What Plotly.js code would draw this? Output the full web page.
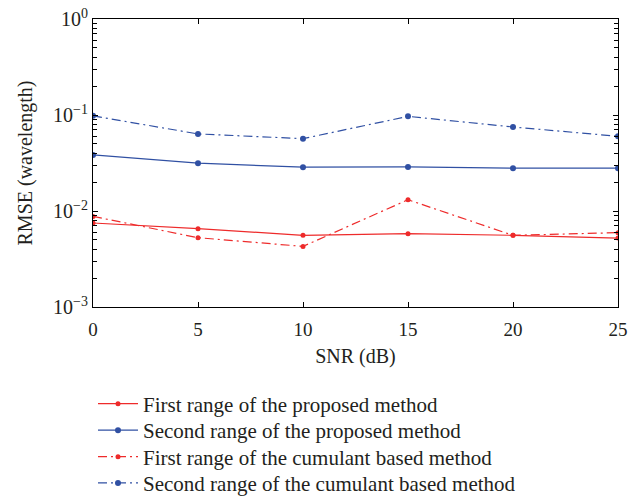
<!DOCTYPE html>
<html>
<head>
<meta charset="utf-8">
<script src="https://cdn.plot.ly/plotly-3.0.1.min.js"></script>
<style>html,body{margin:0;padding:0;background:#fff;}#chart{width:639px;height:498px;}</style>
</head>
<body>
<div id="chart"></div>
<script>
var snr = [0, 5, 10, 15, 20, 25];
var firstProposed = [0.0075, 0.00655, 0.00558, 0.0058, 0.00558, 0.00522];
var secondProposed = [0.0384, 0.0315, 0.0286, 0.0288, 0.0279, 0.0279];
var firstCumulant = [0.00879, 0.00527, 0.00428, 0.0131, 0.00558, 0.00595];
var secondCumulant = [0.098, 0.0635, 0.0567, 0.0968, 0.075, 0.060];
var seriesNames = [
  'First range of the proposed method',
  'Second range of the proposed method',
  'First range of the cumulant based method',
  'Second range of the cumulant based method'
];
var yTickVals = [0.001, 0.01, 0.1, 1];
var yTickText = ['10<sup>\u22123</sup>', '10<sup>\u22122</sup>', '10<sup>\u22121</sup>', '10<sup>0</sup>'];
var xTickVals = [0, 5, 10, 15, 20, 25];

// minor log ticks (2..9 within each decade)
var yMinorVals = [];
for (var d = 0; d < yTickVals.length - 1; d++) {
  for (var k = 2; k <= 9; k++) yMinorVals.push(yTickVals[d] * k);
}

var red = '#ee2b2b';
var blue = '#3050a3';
var dashdot = '9px,4px,2px,4px';
var fam = '"Liberation Serif", "DejaVu Serif", serif';
var txt = '#231f20';

var traces = [
  {x: snr, y: firstProposed, name: seriesNames[0], mode: 'lines+markers', legend: 'legend',
   line: {color: red, width: 1.2}, marker: {color: red, size: 5, symbol: 'circle'}},
  {x: snr, y: secondProposed, name: seriesNames[1], mode: 'lines+markers', legend: 'legend2',
   line: {color: blue, width: 1.2}, marker: {color: blue, size: 6, symbol: 'circle'}},
  {x: snr, y: firstCumulant, name: seriesNames[2], mode: 'lines+markers', legend: 'legend3',
   line: {color: red, width: 1.2, dash: dashdot}, marker: {color: red, size: 5, symbol: 'circle'}},
  {x: snr, y: secondCumulant, name: seriesNames[3], mode: 'lines+markers', legend: 'legend4',
   line: {color: blue, width: 1.2, dash: dashdot}, marker: {color: blue, size: 6, symbol: 'circle'}}
];

function leg(yc) {
  return {x: 0, xanchor: 'left', y: yc, yanchor: 'middle',
          font: {family: fam, size: 21, color: txt},
          bgcolor: 'rgba(0,0,0,0)', itemwidth: 40, borderwidth: 0};
}

var layout = {
  width: 639, height: 498,
  margin: {l: 93, r: 21, t: 19, b: 191, autoexpand: false},
  paper_bgcolor: '#fff', plot_bgcolor: '#fff',
  font: {family: fam, color: txt, size: 18},
  showlegend: true,
  legend: leg(-0.337),
  legend2: leg(-0.429),
  legend3: leg(-0.521),
  legend4: leg(-0.612),
  xaxis: {
    range: [0, 25], tickvals: xTickVals, showgrid: false, zeroline: false,
    ticks: 'inside', ticklen: 5, tickwidth: 1, tickcolor: '#000',
    showline: true, linecolor: '#000', linewidth: 1, mirror: 'ticks',
    tickfont: {size: 19}, ticklabelstandoff: 5,
    title: {text: 'SNR (dB)', font: {size: 20}, standoff: 10}
  },
  yaxis: {
    type: 'log', range: [-3, 0], tickvals: yTickVals, ticktext: yTickText,
    showgrid: false, zeroline: false,
    ticks: 'inside', ticklen: 5, tickwidth: 1, tickcolor: '#000',
    showline: true, linecolor: '#000', linewidth: 1, mirror: 'ticks',
    minor: {tickmode: 'array', tickvals: yMinorVals, ticks: 'inside', ticklen: 4, tickwidth: 1, tickcolor: '#000', showgrid: false},
    tickfont: {size: 20},
    title: {text: 'RMSE (wavelength)', font: {size: 20}, standoff: 15}
  }
};

Plotly.newPlot('chart', traces, layout, {displayModeBar: false, staticPlot: true});
</script>
</body>
</html>
